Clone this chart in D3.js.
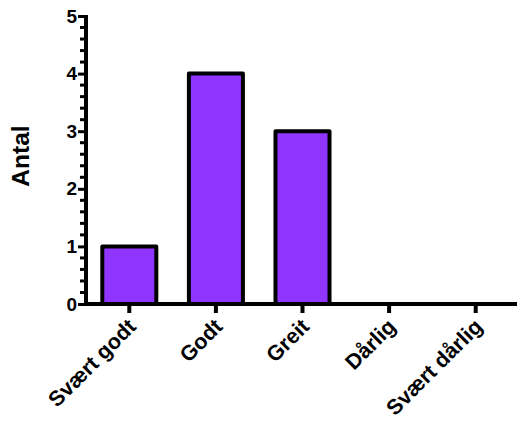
<!DOCTYPE html>
<html><head><meta charset="utf-8">
<script src="https://cdn.jsdelivr.net/npm/d3@7"></script>
<style>body{margin:0;background:#fff}svg{display:block}text{font-family:"Liberation Sans",Arial,sans-serif;font-weight:bold}</style>
</head><body><svg id="c" width="517" height="426"></svg>
<script>
const categories = ["Svært godt","Godt","Greit","Dårlig","Svært dårlig"];
const values = [1,4,3,0,0];
const yTicks = [0,1,2,3,4,5];
const yLabel = "Antal";

(function(){
const svg = d3.select("#c");
const mLeft = 86, mBottom = 304, mTop = 16, mRight = 519;
const x = d3.scaleBand().domain(categories).range([mLeft, mRight]).paddingInner(0.33).paddingOuter(0.165);
const y = d3.scaleLinear().domain([0,5]).range([mBottom, mTop]);

svg.append("g").selectAll("rect").data(values).join("rect")
  .attr("x", (d,i)=>x(categories[i])+2)
  .attr("width", x.bandwidth()-4)
  .attr("y", d=>y(d))
  .attr("height", d=>mBottom-y(d))
  .attr("fill", d=>d>0?"#9035FF":"none")
  .attr("stroke", d=>d>0?"#000":"none")
  .attr("stroke-width", 4)
  .attr("stroke-linejoin","round");

const minor = d3.range(0, 5.0001, 0.2).filter(v=>Math.abs(v-Math.round(v))>1e-6);
svg.append("g").selectAll("line").data(minor).join("line")
  .attr("x1", mLeft-6).attr("x2", mLeft).attr("y1", d=>y(d)).attr("y2", d=>y(d))
  .attr("stroke","#000").attr("stroke-width",3);

const yAxis = d3.axisLeft(y).tickValues(yTicks).tickFormat(d3.format("d")).tickSize(8).tickSizeOuter(0).tickPadding(1);
const ga = svg.append("g").attr("transform",`translate(${mLeft},0)`).call(yAxis);
ga.select(".domain").attr("stroke-width",4).attr("d", `M0,${mTop-1}V${mBottom+2}`);
ga.selectAll(".tick line").attr("stroke-width",3);
ga.selectAll(".tick text").attr("font-size",19).attr("font-weight","bold").attr("font-family","Liberation Sans, Arial, sans-serif").attr("fill","#000");

const xAxis = d3.axisBottom(x).tickSize(9).tickSizeOuter(0);
const gx = svg.append("g").attr("transform",`translate(0,${mBottom})`).call(xAxis);
gx.select(".domain").attr("stroke-width",4).attr("d", `M${mLeft-2},0H517`);
gx.selectAll(".tick line").attr("stroke-width",4).attr("y1",2);
gx.selectAll(".tick text").attr("font-size",21.5).attr("font-weight","bold")
  .attr("font-family","Liberation Sans, Arial, sans-serif").attr("fill","#000")
  .attr("text-anchor","end").attr("dy",null).attr("y",null)
  .attr("transform","translate(8,24) rotate(-45)");

svg.append("text").attr("transform","translate(29,156) rotate(-90)")
  .attr("text-anchor","middle").attr("font-size",24.5).text(yLabel);
})();
</script></body></html>
